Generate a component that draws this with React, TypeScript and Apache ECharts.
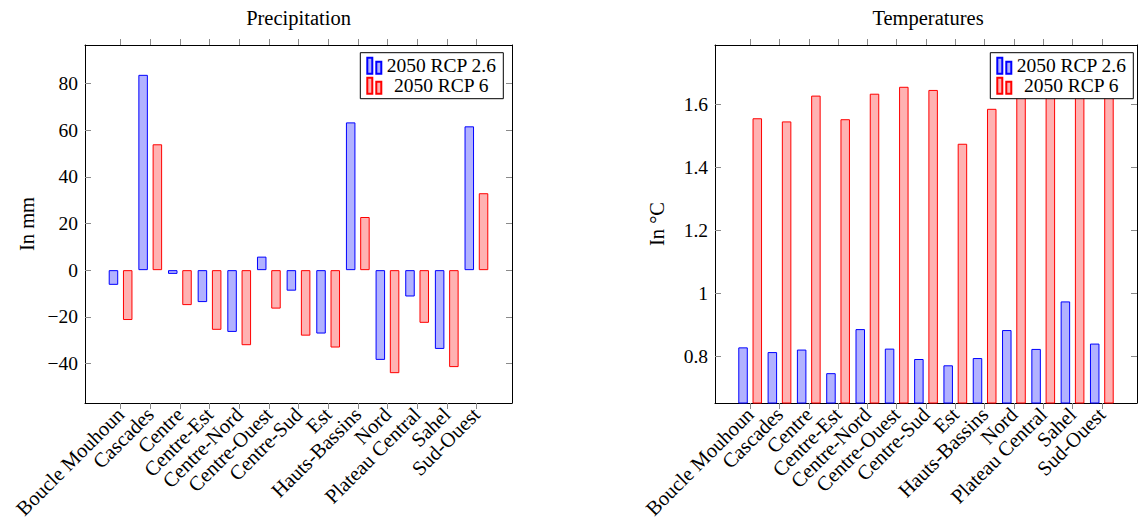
import React, { useEffect, useRef } from "react";
import * as echarts from "echarts";

// Regions of Burkina Faso
const categories = [
  "Boucle Mouhoun",
  "Cascades",
  "Centre",
  "Centre-Est",
  "Centre-Nord",
  "Centre-Ouest",
  "Centre-Sud",
  "Est",
  "Hauts-Bassins",
  "Nord",
  "Plateau Central",
  "Sahel",
  "Sud-Ouest",
];

const seriesNames = ["2050 RCP 2.6", "2050 RCP 6"];

// Precipitation change (mm)
const precipRcp26 = [-6.3, 83.8, -1.6, -13.7, -26.5, 5.8, -8.8, -27.2, 63.4, -38.5, -11.3, -33.8, 61.7];
const precipRcp6 = [-21.4, 54.0, -15.0, -25.6, -32.2, -16.5, -28.1, -33.2, 22.8, -44.2, -22.6, -41.6, 33.0];

// Temperature change (°C)
const tempRcp26 = [0.829, 0.814, 0.822, 0.747, 0.887, 0.825, 0.792, 0.772, 0.795, 0.884, 0.824, 0.975, 0.841];
const tempRcp6 = [1.557, 1.547, 1.629, 1.554, 1.635, 1.657, 1.647, 1.476, 1.587, 1.68, 1.66, 1.695, 1.67];

// Tick labels
const precipTicks = [-40, -20, 0, 20, 40, 60, 80];
const tempTicks = [0.8, 1, 1.2, 1.4, 1.6];

const FONT = "'Liberation Serif', 'Times New Roman', serif";
const FS_NUM = 19.5;
const FS_TXT = 20.5;
const BLUE = "#0000ff";
const RED = "#ff0000";
const BLUE_FILL = "rgba(0,0,255,0.3)";
const RED_FILL = "rgba(255,0,0,0.3)";
const TICK = "#8a8a8a";

const catIdx = categories.map((_, i) => i);
const X_PAD = 1.2; // category units of empty space at both ends
const X_MIN = -X_PAD;
const X_MAX = catIdx.length - 1 + X_PAD;

// plot frames
const TOP = 45;
const HEIGHT = 358;
const frames = [
  { left: 85, width: 427 },
  { left: 715, width: 422 },
];

// 10% padding on each side of the data range
function paddedRange(arrs: number[][]): [number, number] {
  const all = arrs.flat();
  const lo = Math.min(...all);
  const hi = Math.max(...all);
  const pad = (hi - lo) * 0.1;
  return [lo - pad, hi + pad];
}

const fmtNum = (v: number) => String(v).replace("-", "\u2212");

// grid whose category bands are centred on the integer positions of a frame
function labelGrid(f: { left: number; width: number }) {
  const unit = f.width / (X_MAX - X_MIN);
  return {
    left: f.left + (-0.5 - X_MIN) * unit,
    width: catIdx.length * unit,
    top: TOP,
    height: HEIGHT,
  };
}

function xAxes(gridIndex: number) {
  const base = {
    gridIndex,
    type: "value",
    min: X_MIN,
    max: X_MAX,
    splitLine: { show: false },
    axisLine: { show: true, onZero: false, lineStyle: { color: "#000", width: 1 } },
    axisTick: { show: true, customValues: catIdx, length: 6, lineStyle: { color: TICK } },
    axisLabel: { show: false },
  };
  return [
    { ...base, position: "bottom" },
    { ...base, position: "top" },
  ];
}

function categoryLabelAxis(gridIndex: number) {
  return {
    gridIndex,
    type: "category",
    position: "bottom",
    data: categories,
    boundaryGap: true,
    axisLine: { show: false },
    axisTick: { show: false },
    splitLine: { show: false },
    axisLabel: {
      interval: 0,
      rotate: 45,
      margin: 8,
      fontFamily: FONT,
      fontSize: FS_TXT,
      color: "#000",
    },
  };
}

function yAxes(gridIndex: number, range: [number, number], ticks: number[], name: string) {
  const base = {
    gridIndex,
    type: "value",
    min: range[0],
    max: range[1],
    splitLine: { show: false },
    axisLine: { show: true, onZero: false, lineStyle: { color: "#000", width: 1 } },
    axisTick: { show: true, inside: true, customValues: ticks, length: 6, lineStyle: { color: TICK } },
  };
  return [
    {
      ...base,
      position: "left",
      name,
      nameLocation: "middle",
      nameGap: 48,
      nameRotate: 90,
      nameTextStyle: { fontFamily: FONT, fontSize: FS_TXT, color: "#000" },
      axisLabel: {
        customValues: ticks,
        margin: 7,
        showMinLabel: true,
        showMaxLabel: true,
        fontFamily: FONT,
        fontSize: FS_NUM,
        color: "#000",
        formatter: fmtNum,
      },
    },
    { ...base, position: "right", axisLabel: { show: false } },
  ];
}

function hiddenY(gridIndex: number) {
  return { gridIndex, type: "value", show: false, min: 0, max: 1 };
}

function barSeries(name: string, values: number[], xi: number, yi: number, fill: string, stroke: string) {
  return {
    type: "bar",
    name,
    xAxisIndex: xi,
    yAxisIndex: yi,
    data: values.map((v, i) => [i, v]),
    barWidth: 9.5,
    barGap: "50%",
    clip: true,
    itemStyle: { color: fill, borderColor: stroke, borderWidth: 1 },
    emphasis: { disabled: true },
  };
}

function legend(right: number) {
  return {
    orient: "vertical",
    right,
    top: 52.7,
    padding: [3, 7, 3, 6],
    itemGap: 0,
    itemWidth: 14,
    itemHeight: 16,
    itemTextGap: 4,
    borderColor: "#000",
    borderWidth: 1,
    borderRadius: 0,
    backgroundColor: "#fff",
    selectedMode: false,
    icon: "path://M0 0H5V16H0Z M9 4H14V16H9Z",
    data: seriesNames,
    formatter: (n: string) => `{t|${n}}`,
    textStyle: {
      fontFamily: FONT,
      fontSize: FS_NUM,
      color: "#000",
      rich: { t: { width: 110, align: "center", lineHeight: 23, fontFamily: FONT, fontSize: FS_NUM, color: "#000" } },
    },
  };
}

export default function App() {
  const ref = useRef<HTMLDivElement>(null);

  useEffect(() => {
    if (!ref.current) return;
    const chart = echarts.init(ref.current, undefined, { renderer: "svg" });
    const precipRange = paddedRange([precipRcp26, precipRcp6]);
    const tempRange = paddedRange([tempRcp26, tempRcp6]);

    chart.setOption({
      animation: false,
      backgroundColor: "#fff",
      title: [
        {
          text: "Precipitation",
          left: frames[0].left + frames[0].width / 2,
          top: 7,
          padding: 0,
          textAlign: "center",
          textStyle: { fontFamily: FONT, fontSize: FS_TXT, fontWeight: "normal", color: "#000" },
        },
        {
          text: "Temperatures",
          left: 928,
          top: 7,
          padding: 0,
          textAlign: "center",
          textStyle: { fontFamily: FONT, fontSize: FS_TXT, fontWeight: "normal", color: "#000" },
        },
      ],
      legend: [legend(634.7), legend(4.7)],
      grid: [
        { left: frames[0].left, width: frames[0].width, top: TOP, height: HEIGHT },
        { left: frames[1].left, width: frames[1].width, top: TOP, height: HEIGHT },
        labelGrid(frames[0]),
        labelGrid(frames[1]),
      ],
      xAxis: [...xAxes(0), ...xAxes(1), categoryLabelAxis(2), categoryLabelAxis(3)],
      yAxis: [
        ...yAxes(0, precipRange, precipTicks, "In mm"),
        ...yAxes(1, tempRange, tempTicks, "In \u00b0C"),
        hiddenY(2),
        hiddenY(3),
      ],
      series: [
        barSeries(seriesNames[0], precipRcp26, 0, 0, BLUE_FILL, BLUE),
        barSeries(seriesNames[1], precipRcp6, 0, 0, RED_FILL, RED),
        barSeries(seriesNames[0], tempRcp26, 2, 2, BLUE_FILL, BLUE),
        barSeries(seriesNames[1], tempRcp6, 2, 2, RED_FILL, RED),
      ],
    });

    return () => chart.dispose();
  }, []);

  return (
    <div
      ref={ref}
      style={{ position: "absolute", left: 0, top: 0, width: 1138, height: 525 }}
    />
  );
}
